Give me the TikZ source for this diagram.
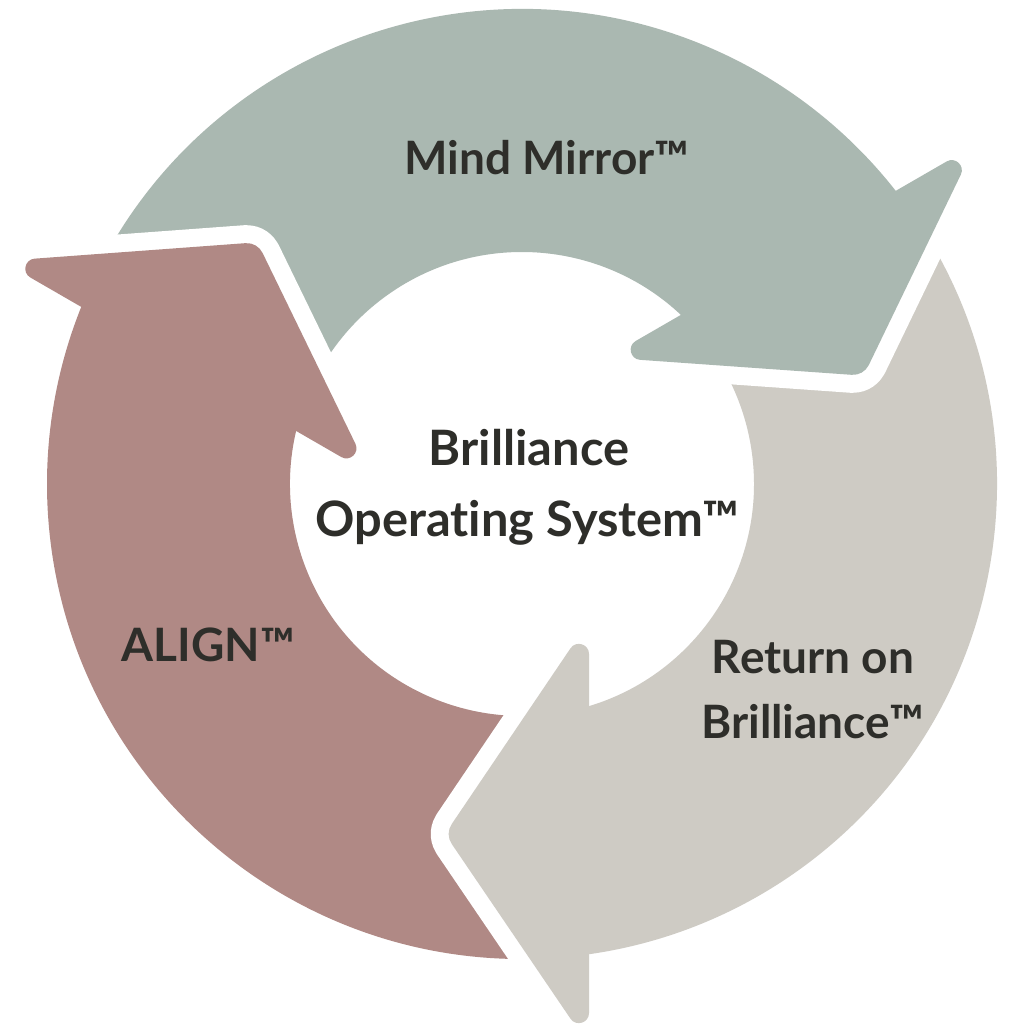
\documentclass[tikz,border=0pt]{standalone}
\usepackage{fontspec}
\setmainfont{Lato}[Ligatures={NoCommon,NoContextual}]
\definecolor{sage}{HTML}{AAB8B1}
\definecolor{rose}{HTML}{B08985}
\definecolor{stone}{HTML}{CECBC4}
\definecolor{ink}{HTML}{2E2E2A}
\tikzset{
  ringbody/.style={fill=#1},
  headgap/.style={draw=white, line width=18pt, line cap=round, line join=round},
  label/.style={text=ink, anchor=base, inner sep=0pt, font=\fontsize{23}{28}\selectfont\bfseries},
  centrelabel/.style={text=ink, anchor=base, inner sep=0pt, font=\fontsize{24.4}{30}\selectfont\bfseries}
}
\newcommand{\ringsector}[3]{%
  \fill[ringbody=#3] (#1:475) arc[start angle=#1, end angle=#2, radius=475]
    -- (#2:232) arc[start angle=#2, end angle=#1, radius=232] -- cycle;}
\newcommand{\arrowhead}[2]{%
  \begin{scope}[rotate=#1]
    \draw[headgap] (48.5,-164.3) -- (-70.3,-340.1)
      .. controls (-74.4,-346.2) and (-74.4,-353.8) .. (-70.3,-359.9) -- (48.5,-534.7);
    \fill[#2] (67,-170) .. controls (67,-160) and (54.05,-156.1) .. (48.5,-164.3)
      -- (-70.3,-340.1) .. controls (-74.4,-346.2) and (-74.4,-353.8) .. (-70.3,-359.9)
      -- (48.5,-534.7) .. controls (54.05,-542.9) and (67,-539) .. (67,-529) -- cycle;
  \end{scope}}
\begin{document}
\begin{tikzpicture}[x=0.5pt,y=0.5pt]
  \useasboundingbox[fill=white] (-522,-547) rectangle (509,484);
  % ring bodies
  \ringsector{155}{37.5}{sage}
  \ringsector{35}{-82.5}{stone}
  \ringsector{-85}{-202.5}{rose}
  % arrowheads
  \arrowhead{0}{stone}
  \arrowhead{120}{sage}
  \arrowhead{240}{rose}
  % labels
  \node[label] (mind) at (25,309) {Mind Mirror™};
  \node[label] (ret1) at (291,-190) {Return on};
  \node[label] (ret2) at (290.5,-254) {Brilliance™};
  \node[label] (align) at (-313.5,-177) {ALIGN™};
  \node[centrelabel] (bos1) at (7,18) {Brilliance};
  \node[centrelabel] (bos2) at (5.5,-53) {Operat\kern0pt ing System™};
\end{tikzpicture}
\end{document}
